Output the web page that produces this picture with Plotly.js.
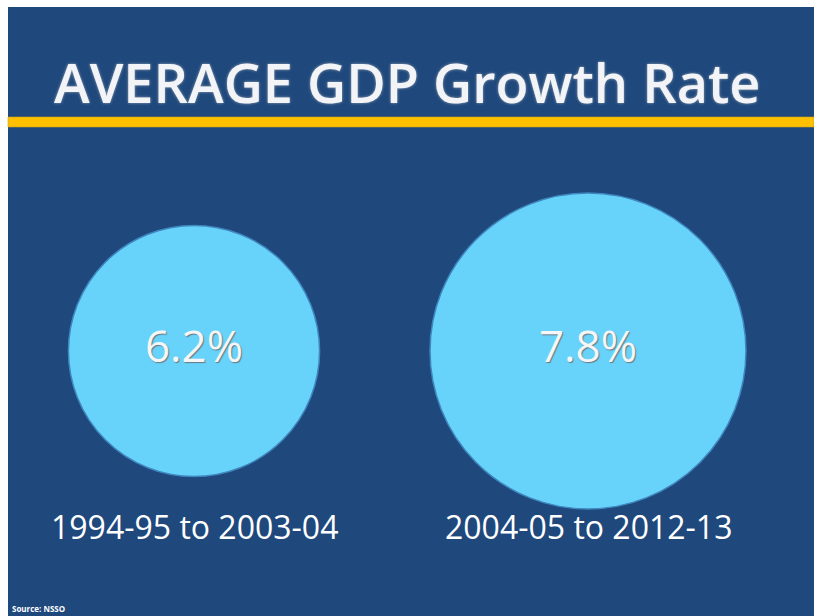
<!DOCTYPE html>
<html>
<head>
<meta charset="utf-8">
<script src="https://cdn.plot.ly/plotly-3.0.1.min.js"></script>
<style>html,body{margin:0;padding:0;background:#fff;}#chart{width:814px;height:616px;}</style>
</head>
<body>
<div id="chart"></div>
<script>
// Data
const periods = ["1994-95 to 2003-04", "2004-05 to 2012-13"];
const growthRates = [6.2, 7.8];
const rateLabels = ["6.2%", "7.8%"];
const chartTitle = "AVERAGE GDP Growth Rate";
const sourceNote = "Source: NSSO";

const W = 814, H = 616;
const px = v => v / W;            // paper x from pixel
const py = v => 1 - v / H;        // paper y from pixel (from top)

const xIdx = periods.map((_, i) => i);

const bubbles = {
  type: "scatter",
  mode: "markers+text",
  x: xIdx,
  y: periods.map(() => 0),
  text: rateLabels,
  textposition: "middle center",
  textfont: {family: "Open Sans", size: 44, color: "#F4F6F8", shadow: "1px 1px 1px #6b7780"},
  marker: {
    size: growthRates,
    sizemode: "diameter",
    sizeref: 7.8 / 316,
    color: "#67D3FA",
    line: {color: "#3F86BE", width: 1.5},
    opacity: 1
  },
  hoverinfo: "skip",
  cliponaxis: false,
  showlegend: false
};

const layout = {
  width: W, height: H,
  margin: {l: 0, r: 0, t: 0, b: 0, pad: 0},
  paper_bgcolor: "#FFFFFF",
  plot_bgcolor: "rgba(0,0,0,0)",
  showlegend: false,
  title: {
    text: chartTitle,
    x: px(54), xanchor: "left", xref: "container",
    y: py(84), yanchor: "middle", yref: "container",
    font: {family: "Open Sans", size: 54, weight: 600, color: "#F2F4F7", shadow: "0px 0px 3px #9aa7b5"}
  },
  xaxis: {range: [-194 / 394, (W - 194) / 394], visible: false, fixedrange: true},
  yaxis: {range: [351 / H - 1, 351 / H], visible: false, fixedrange: true},
  shapes: [
    {type: "rect", xref: "paper", yref: "paper", x0: px(8), x1: 1, y0: 0, y1: py(7),
     fillcolor: "#1F487C", line: {width: 0}, layer: "below"},
    {type: "rect", xref: "paper", yref: "paper", x0: px(8), x1: 1, y0: py(127), y1: py(117),
     fillcolor: "#FFC000", line: {color: "#C9A21A", width: 0.6}, layer: "below"}
  ],
  annotations: periods.map((p, i) => ({
    text: p, x: i, xref: "x", y: py(526), yref: "paper",
    xanchor: "center", yanchor: "middle", showarrow: false,
    font: {family: "Open Sans", size: 32, color: "#FFFFFF"}
  })).concat([{
    text: "<b>" + sourceNote + "</b>", x: px(10), xref: "paper", y: py(608), yref: "paper",
    xanchor: "left", yanchor: "middle", showarrow: false,
    font: {family: "Open Sans", size: 8, color: "#FFFFFF"}
  }])
};

Plotly.newPlot("chart", [bubbles], layout, {displayModeBar: false, staticPlot: true});
</script>
</body>
</html>
